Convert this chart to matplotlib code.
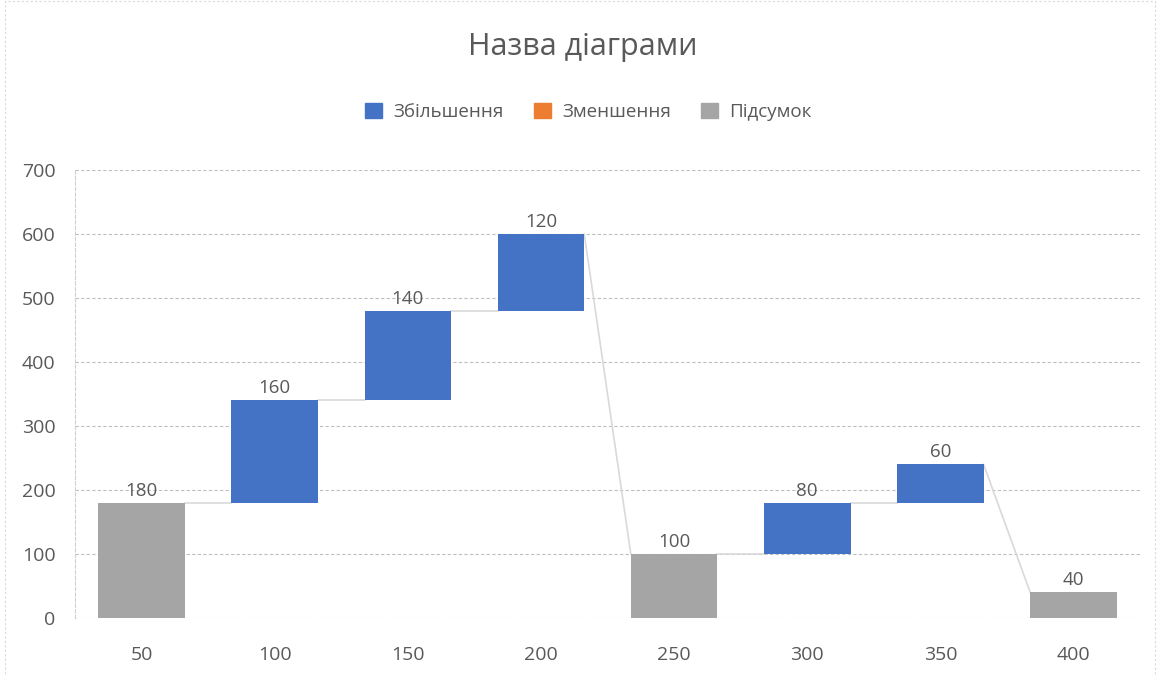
import matplotlib
matplotlib.use("Agg")
import matplotlib.pyplot as plt
from matplotlib.patches import Patch, Rectangle

plt.rcParams['font.family'] = ['Open Sans', 'DejaVu Sans']

categories = ["50", "100", "150", "200", "250", "300", "350", "400"]
values = [180, 160, 140, 120, 100, 80, 60, 40]
kinds = ["total", "inc", "inc", "inc", "total", "inc", "inc", "total"]
title = "Назва діаграми"
legend_labels = ["Збільшення", "Зменшення", "Підсумок"]
yticks = [0, 100, 200, 300, 400, 500, 600, 700]

c_inc = "#4472C4"
c_dec = "#ED7D31"
c_tot = "#A5A5A5"
txt = "#595959"

fig = plt.figure(figsize=(11.58, 6.75), dpi=100)
fig.patches.append(Rectangle((0.004, 0.0), 0.993, 0.999, transform=fig.transFigure,
                             fill=False, edgecolor="#D9D9D9", lw=0.8, linestyle=(0, (2, 2))))
ax = fig.add_axes([0.0648, 0.0844, 0.9197, 0.6636])

width = 0.65
running = 0
bases, tops = [], []
for i, (v, k) in enumerate(zip(values, kinds)):
    if k == "total":
        base, top = 0, v
        color = c_tot
    else:
        base, top = running, running + v
        color = c_inc
    ax.bar(i, top - base, bottom=base, width=width, color=color, zorder=3)
    ax.text(i, top + 5, str(v), ha="center", va="bottom", fontsize=13.5, color=txt, zorder=4)
    bases.append(base)
    tops.append(top)
    running = top

# connectors
for i in range(len(values) - 1):
    y0 = tops[i]
    y1 = tops[i + 1] if kinds[i + 1] == "total" else bases[i + 1]
    ax.plot([i + width / 2, i + 1 - width / 2], [y0, y1], color="#D9D9D9", lw=1.2, zorder=2)

ax.set_xlim(-0.5, len(values) - 0.5)
ax.set_ylim(0, 700)
ax.set_yticks(yticks)
ax.set_xticks(range(len(categories)))
ax.set_xticklabels(categories)
ax.tick_params(axis="both", length=0, labelsize=14, labelcolor=txt)
ax.tick_params(axis="y", pad=14)
ax.tick_params(axis="x", pad=20)
ax.grid(axis="y", color="#BFBFBF", linestyle=(0, (3, 2)), lw=0.8, zorder=0)
for s in ["top", "right", "bottom"]:
    ax.spines[s].set_visible(False)
ax.spines["left"].set_color("#D0D0D0")
ax.spines["left"].set_linestyle((0, (3, 2)))
ax.spines["left"].set_linewidth(0.8)

fig.text(0.503, 0.93, title, ha="center", va="center", fontsize=22, color=txt)
handles = [Patch(color=c_inc), Patch(color=c_dec), Patch(color=c_tot)]
fig.legend(handles, legend_labels, loc="center", bbox_to_anchor=(0.508, 0.834), ncol=3,
           frameon=False, fontsize=13.5, labelcolor=txt, handlelength=0.9, handleheight=0.9,
           handletextpad=0.6, columnspacing=1.6)

fig.savefig("out.png", dpi=100)
